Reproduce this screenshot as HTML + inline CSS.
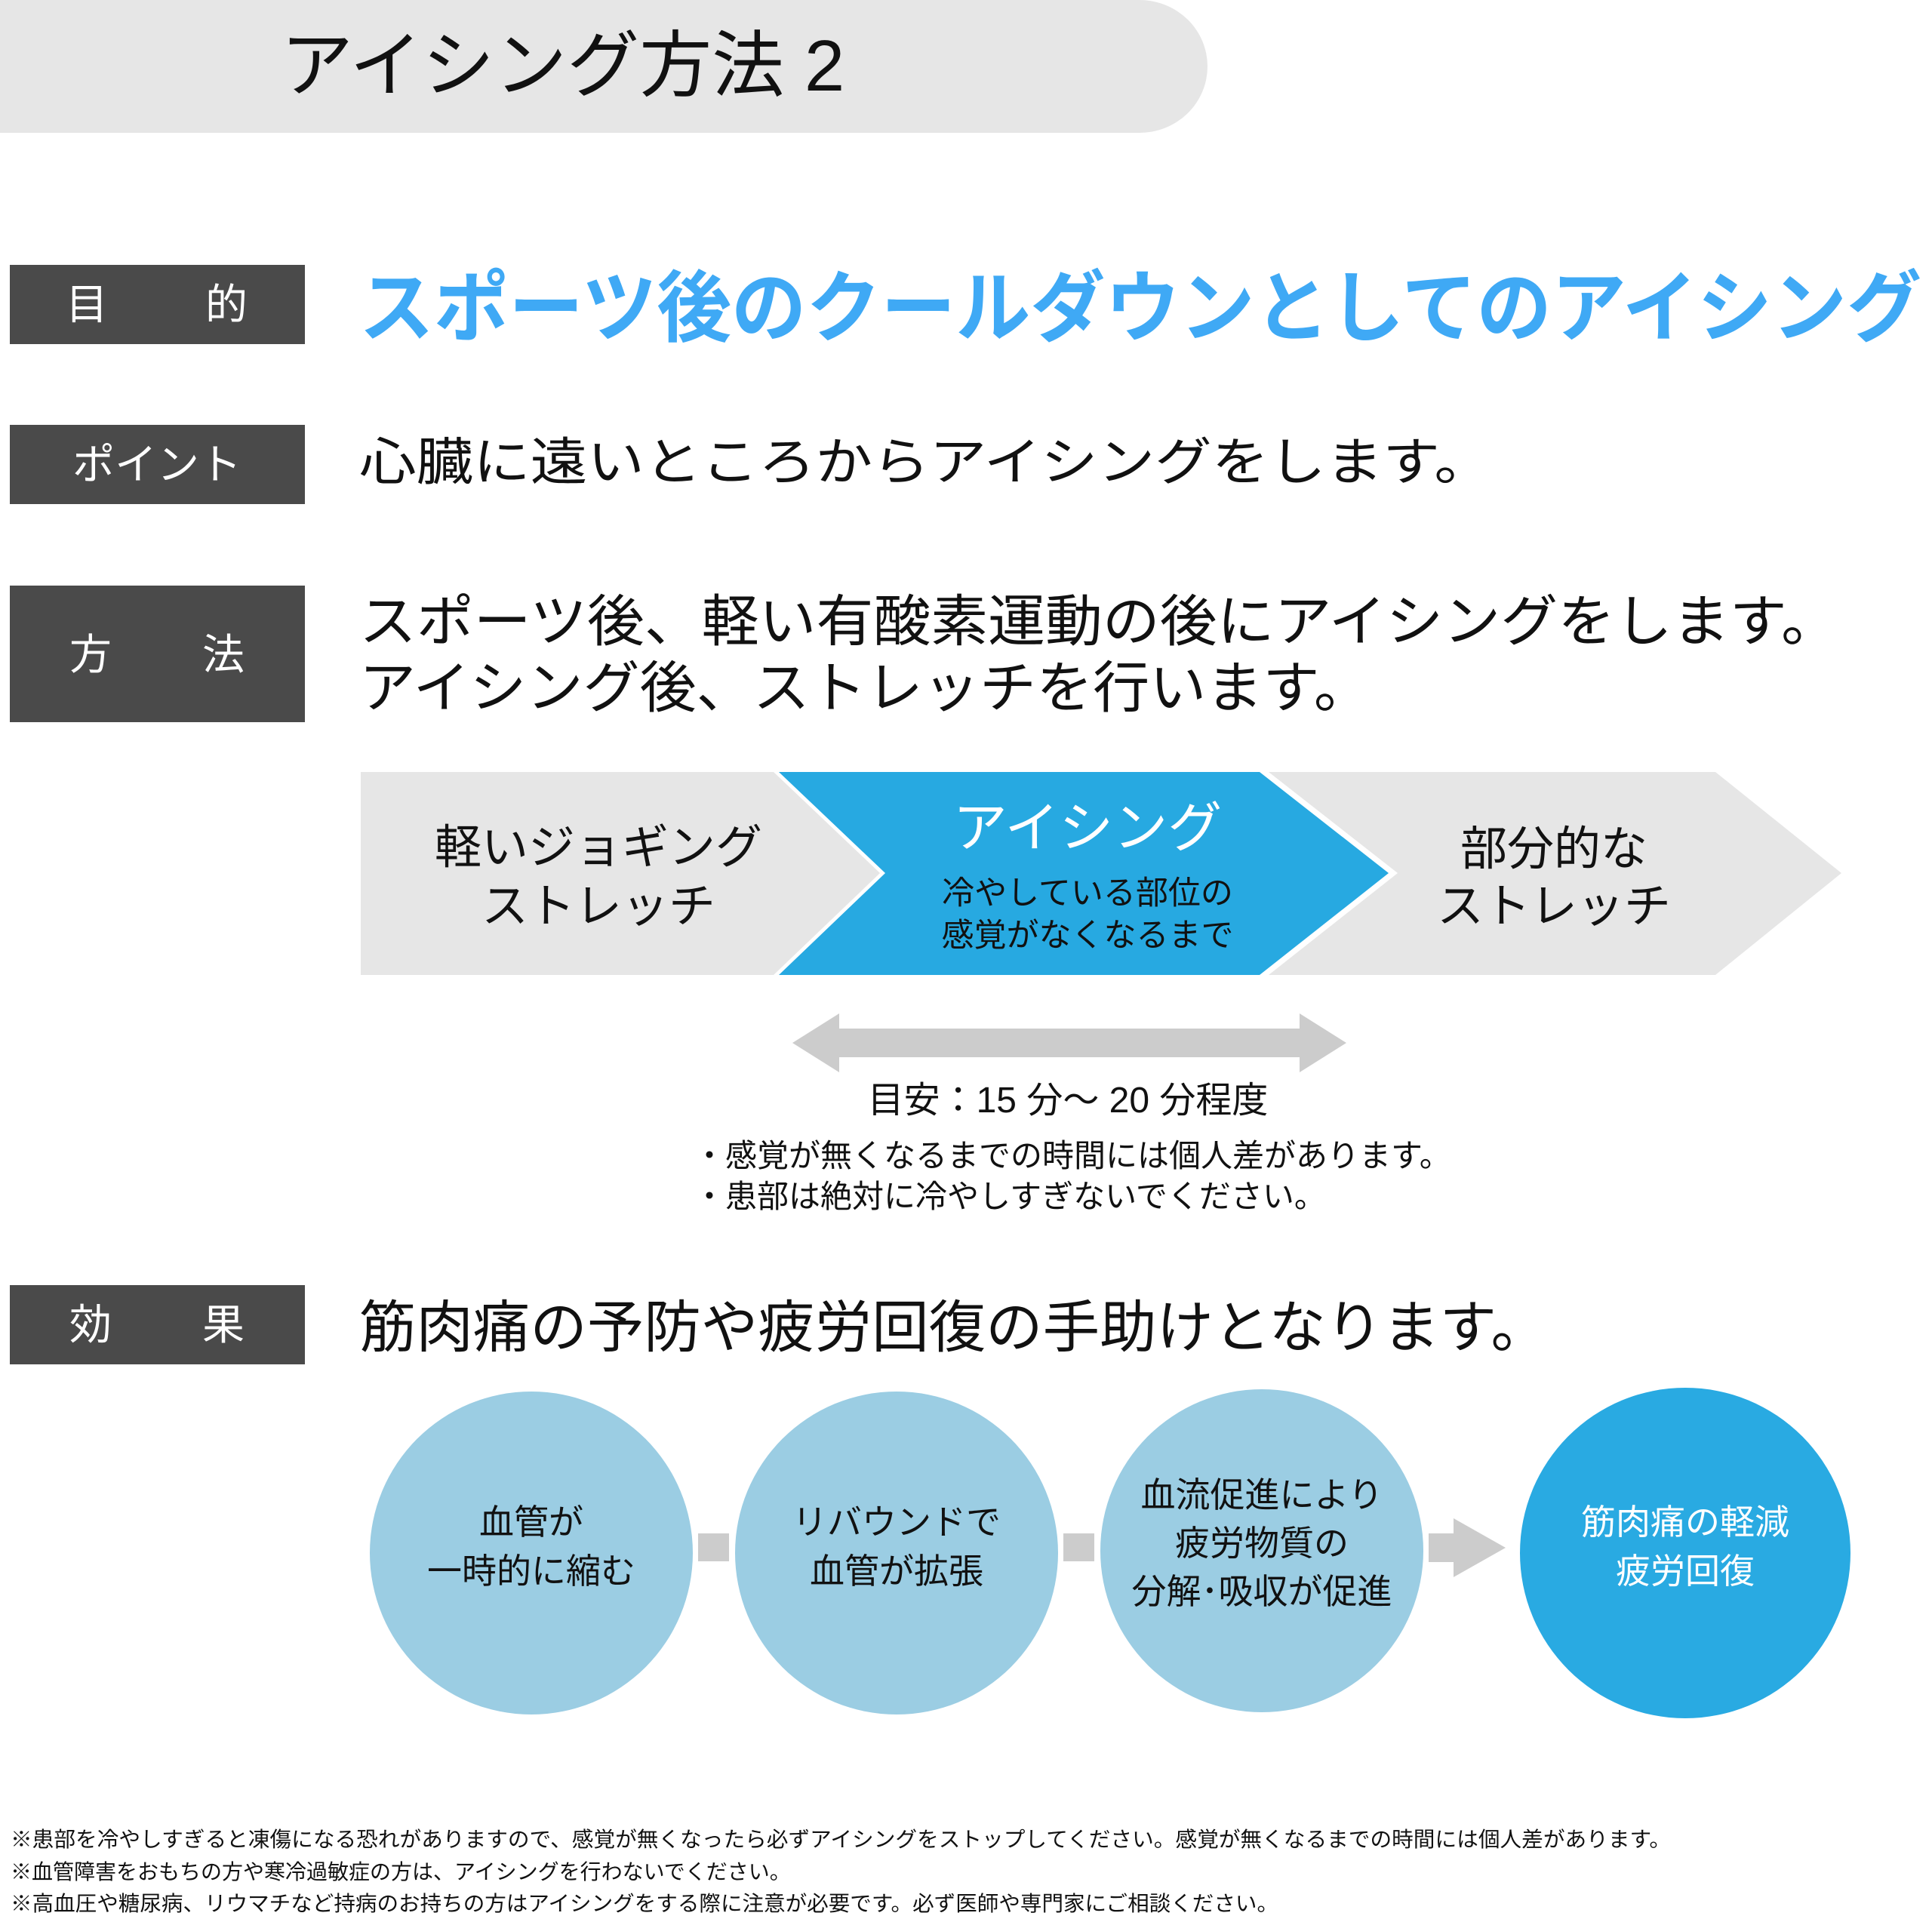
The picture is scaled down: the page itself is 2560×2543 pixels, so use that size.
<!DOCTYPE html>
<html><head><meta charset="utf-8"><style>
html,body{margin:0;padding:0;background:#fff;}
body{width:2560px;height:2538px;overflow:hidden;position:relative;font-family:"Liberation Sans","Noto Sans CJK JP",sans-serif;}
svg text{font-family:"Liberation Sans","Noto Sans CJK JP",sans-serif;}
</style></head><body>
<svg width="2560" height="2538" viewBox="0 0 2560 2538" xmlns="http://www.w3.org/2000/svg">
<path d="M0 0 H1510 A90 88 0 0 1 1600 88 A90 88 0 0 1 1510 176 H0 Z" fill="#e6e6e6"/>
<text x="372" y="120" font-size="96" fill="#111">アイシング方法 2</text>

<g fill="#4a4a4a">
<rect x="13" y="351" width="391" height="105"/>
<rect x="13" y="563" width="391" height="105"/>
<rect x="13" y="776" width="391" height="181"/>
<rect x="13" y="1703" width="391" height="105"/>
</g>
<g fill="#fff" font-size="56" text-anchor="middle">
<text x="115" y="423">目</text><text x="300" y="423">的</text>
<text x="208" y="635">ポイント</text>
<text x="120" y="887">方</text><text x="296" y="887">法</text>
<text x="120" y="1775">効</text><text x="296" y="1775">果</text>
</g>

<text x="476" y="444" font-size="103" font-weight="bold" fill="#3fa9f5" textLength="2070" lengthAdjust="spacingAndGlyphs">スポーツ後のクールダウンとしてのアイシング</text>
<text x="476" y="636" font-size="68" fill="#111" textLength="1500" lengthAdjust="spacingAndGlyphs">心臓に遠いところからアイシングをします。</text>
<text x="476" y="849" font-size="74" fill="#111" textLength="1960" lengthAdjust="spacingAndGlyphs">スポーツ後、軽い有酸素運動の後にアイシングをします。</text>
<text x="476" y="937" font-size="74" fill="#111" textLength="1340" lengthAdjust="spacingAndGlyphs">アイシング後、ストレッチを行います。</text>

<polygon points="478,1023 1025,1023 1166,1157 1025,1292 478,1292" fill="#e6e6e6"/>
<polygon points="1032,1023 1669,1023 1840,1157 1669,1292 1032,1292 1173,1157" fill="#27a9e1"/>
<polygon points="1681,1023 2273,1023 2440,1157 2273,1292 1681,1292 1852,1157" fill="#e6e6e6"/>
<g font-size="62" fill="#111" text-anchor="middle">
<text x="793" y="1144">軽いジョギング</text>
<text x="793" y="1222">ストレッチ</text>
<text x="2059" y="1146">部分的な</text>
<text x="2059" y="1222">ストレッチ</text>
</g>
<text x="1441" y="1122" font-size="72" fill="#fff" text-anchor="middle">アイシング</text>
<text x="1441" y="1198" font-size="43" fill="#111" text-anchor="middle">冷やしている部位の</text>
<text x="1441" y="1254" font-size="43" fill="#111" text-anchor="middle">感覚がなくなるまで</text>

<polygon points="1050,1382 1112,1343 1112,1363 1722,1363 1722,1343 1784,1382 1722,1421 1722,1401 1112,1401 1112,1421" fill="#cccccc"/>
<text x="1415" y="1474" font-size="48" fill="#111" text-anchor="middle">目安：15 分～ 20 分程度</text>
<text x="919" y="1546" font-size="42" fill="#111">・感覚が無くなるまでの時間には個人差があります。</text>
<text x="919" y="1600" font-size="42" fill="#111">・患部は絶対に冷やしすぎないでください。</text>

<text x="476" y="1785" font-size="75" fill="#111" textLength="1575" lengthAdjust="spacingAndGlyphs">筋肉痛の予防や疲労回復の手助けとなります。</text>

<g fill="#9bcde3">
<circle cx="704" cy="2058" r="214"/>
<circle cx="1188" cy="2058" r="214"/>
<circle cx="1672" cy="2055" r="214"/>
</g>
<circle cx="2233" cy="2058" r="219" fill="#29aae2"/>
<g fill="#cccccc">
<rect x="925" y="2032" width="41" height="37"/>
<rect x="1409" y="2032" width="41" height="37"/>
<polygon points="1893,2032 1926,2032 1926,2012 1995,2051 1926,2090 1926,2070 1893,2070"/>
</g>
<g font-size="46" fill="#111" text-anchor="middle">
<text x="704" y="2033">血管が</text>
<text x="704" y="2098">一時的に縮む</text>
<text x="1188" y="2033">リバウンドで</text>
<text x="1188" y="2098">血管が拡張</text>
<text x="1672" y="1997">血流促進により</text>
<text x="1672" y="2061">疲労物質の</text>
<text x="1672" y="2125">分解･吸収が促進</text>
</g>
<g font-size="46" fill="#fff" text-anchor="middle">
<text x="2233" y="2033">筋肉痛の軽減</text>
<text x="2233" y="2098">疲労回復</text>
</g>

<g font-size="28" fill="#111">
<text x="14" y="2447" textLength="2200" lengthAdjust="spacingAndGlyphs">※患部を冷やしすぎると凍傷になる恐れがありますので、感覚が無くなったら必ずアイシングをストップしてください。感覚が無くなるまでの時間には個人差があります。</text>
<text x="14" y="2490">※血管障害をおもちの方や寒冷過敏症の方は、アイシングを行わないでください。</text>
<text x="14" y="2532" textLength="1680" lengthAdjust="spacingAndGlyphs">※高血圧や糖尿病、リウマチなど持病のお持ちの方はアイシングをする際に注意が必要です。必ず医師や専門家にご相談ください。</text>
</g>
</svg>
</body></html>
